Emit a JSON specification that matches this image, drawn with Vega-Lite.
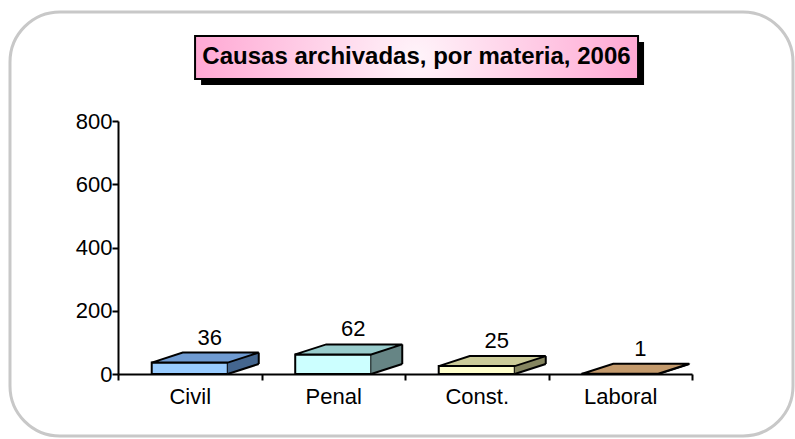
{
  "$schema": "https://vega.github.io/schema/vega-lite/v6.json",
  "width": 783,
  "height": 424,
  "autosize": "none",
  "padding": {"left": 10, "top": 12, "right": 2, "bottom": 3},
  "background": "white",
  "config": {
    "view": {"stroke": "#C8C8C8", "strokeWidth": 3, "cornerRadius": 50, "fill": "white"},
    "font": "Liberation Sans"
  },
  "data": {
    "values": [
      {"m": "Civil", "v": 36},
      {"m": "Penal", "v": 62},
      {"m": "Const.", "v": 25},
      {"m": "Laboral", "v": 1}
    ]
  },
  "resolve": {"scale": {"fill": "independent", "stroke": "independent"}},
  "layer": [
    {
      "mark": {"type": "bar", "width": {"band": 0.53}, "stroke": "black", "strokeWidth": 2},
      "encoding": {
        "x": {
          "field": "m", "type": "nominal", "sort": null,
          "scale": {"type": "band", "domain": ["Civil", "Penal", "Const.", "Laboral"], "range": [108, 682], "paddingInner": 0, "paddingOuter": 0},
          "axis": {"offset": -62, "title": null, "labelAngle": 0, "tickBand": "extent", "domainColor": "black", "domainWidth": 2, "tickColor": "black", "tickWidth": 2, "tickSize": 6, "labelFontSize": 22, "labelColor": "black", "labelPadding": 6, "zindex": 1}
        },
        "y": {
          "field": "v", "type": "quantitative",
          "scale": {"domain": [0, 800], "range": [362, 109], "nice": false},
          "axis": {"values": [0, 200, 400, 600, 800], "offset": -108, "grid": false, "title": null, "domainColor": "black", "domainWidth": 2, "tickColor": "black", "tickWidth": 2, "tickSize": 6, "labelFontSize": 22, "labelColor": "black", "labelPadding": 0, "zindex": 1}
        },
        "fill": {"field": "m", "type": "nominal", "sort": null, "scale": {"domain": ["Civil", "Penal", "Const.", "Laboral"], "range": ["#99CCFF", "#CCFFFF", "#FFFFCC", "#FFCC99"]}, "legend": null}
      }
    },
    {
      "mark": {"type": "rule", "strokeWidth": 31, "strokeCap": "butt", "xOffset": 53.5, "yOffset": -10},
      "encoding": {
        "x": {"field": "m", "type": "nominal", "sort": null},
        "y": {"field": "v", "type": "quantitative"},
        "y2": {"datum": 0},
        "stroke": {"field": "m", "type": "nominal", "sort": null, "scale": {"domain": ["Civil", "Penal", "Const.", "Laboral"], "range": ["#44668F", "#668585", "#858560", "#85664A"]}, "legend": null}
      }
    },
    {
      "mark": {"type": "rule", "strokeWidth": 2, "stroke": "black", "xOffset": 69, "yOffset": -10, "y2Offset": -10},
      "encoding": {
        "x": {"field": "m", "type": "nominal", "sort": null},
        "y": {"field": "v", "type": "quantitative"},
        "y2": {"datum": 0}
      }
    },
    {
      "mark": {"type": "point", "shape": "M37 0.5 L69 -10 L71 -10 L71 0.5 Z", "size": 4, "filled": true, "fill": "white", "strokeWidth": 0, "opacity": 1},
      "encoding": {
        "x": {"field": "m", "type": "nominal", "sort": null},
        "y": {"datum": 0, "type": "quantitative"}
      }
    },
    {
      "mark": {"type": "point", "shape": "M38 0 L69 -10", "size": 4, "filled": false, "stroke": "black", "strokeWidth": 2, "opacity": 1},
      "encoding": {
        "x": {"field": "m", "type": "nominal", "sort": null},
        "y": {"datum": 0, "type": "quantitative"}
      }
    },
    {
      "mark": {"type": "point", "shape": "M-38 0 L38 0 L69 -10 L-7 -10 Z", "size": 4, "filled": true, "stroke": "black", "strokeWidth": 2, "opacity": 1},
      "encoding": {
        "x": {"field": "m", "type": "nominal", "sort": null},
        "y": {"field": "v", "type": "quantitative"},
        "fill": {"field": "m", "type": "nominal", "sort": null, "scale": {"domain": ["Civil", "Penal", "Const.", "Laboral"], "range": ["#6F9BD2", "#99CCCC", "#CCCC99", "#C49A6C"]}, "legend": null}
      }
    },
    {
      "mark": {"type": "text", "dx": 20, "dy": -25, "fontSize": 22, "color": "black", "baseline": "middle", "align": "center"},
      "encoding": {
        "x": {"field": "m", "type": "nominal", "sort": null},
        "y": {"field": "v", "type": "quantitative"},
        "text": {"field": "v", "type": "quantitative"}
      }
    },
    {
      "data": {"values": [{"t": "Causas archivadas, por materia, 2006"}]},
      "layer": [
        {
          "mark": {"type": "bar", "fill": "black", "xOffset": 6, "x2Offset": 6, "yOffset": 6, "y2Offset": 6},
          "encoding": {
            "x": {"datum": "Civil", "bandPosition": 0.537},
            "x2": {"datum": "Laboral", "bandPosition": 0.624},
            "y": {"datum": 1069, "type": "quantitative"},
            "y2": {"datum": 933}
          }
        },
        {
          "mark": {"type": "bar", "stroke": "black", "strokeWidth": 2, "fill": {"gradient": "radial", "x1": 0.5, "y1": 0.5, "x2": 0.5, "y2": 0.5, "r1": 0, "r2": 0.6, "stops": [{"offset": 0, "color": "#FFF4FA"}, {"offset": 1, "color": "#FF99CC"}]}},
          "encoding": {
            "x": {"datum": "Civil", "bandPosition": 0.537},
            "x2": {"datum": "Laboral", "bandPosition": 0.624},
            "y": {"datum": 1069, "type": "quantitative"},
            "y2": {"datum": 933}
          }
        },
        {
          "mark": {"type": "text", "fontSize": 24, "fontWeight": "bold", "color": "black", "baseline": "middle", "align": "center"},
          "encoding": {
            "x": {"datum": "Const.", "bandPosition": 0.08},
            "y": {"datum": 1001, "type": "quantitative"},
            "text": {"field": "t", "type": "nominal"}
          }
        }
      ]
    }
  ]
}
